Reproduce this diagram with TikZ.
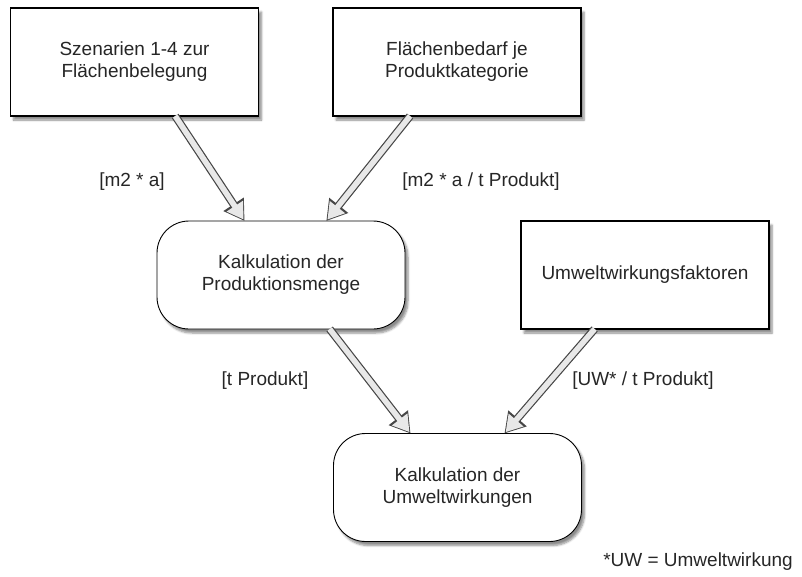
\documentclass[tikz,border=0pt]{standalone}
\usepackage{fontspec}
\setmainfont{Liberation Sans}
\usetikzlibrary{arrows.meta,shadows.blur}

\tikzset{
  stepbox/.style={draw=black, line width=1.2pt, fill=white, minimum width=248pt, minimum height=108pt,
    align=center, outer sep=0pt, text=black!85,
    blur shadow={shadow xshift=3pt, shadow yshift=-4pt, shadow blur steps=6, shadow opacity=45}},
  calcbox/.style={stepbox, line width=0.9pt, rounded corners=32pt},
  flow/.style={draw=gray!18, line width=5.6pt, -{Triangle[width=18.5pt,length=16pt]}, shorten >=1.8pt,
    preaction={draw=gray!55!black, line width=8pt, -{Triangle[width=23pt,length=20pt]}, shorten >=0pt}},
  unit/.style={text=black!85}
}

\begin{document}
\begin{tikzpicture}[x=1pt, y=-1pt, font=\fontsize{19}{22}\selectfont]
\useasboundingbox (0,0) rectangle (802,576);
% boxes and calculation steps
\node[stepbox] (szen) at (134.5,62) {Szenarien 1-4 zur\\Flächenbelegung};
\node[stepbox] (bedarf) at (457,62) {Flächenbedarf je\\Produktkategorie};
\node[calcbox] (menge) at (281,275) {Kalkulation der\\Produktionsmenge};
\node[stepbox] (faktor) at (645,275) {Umweltwirkungsfaktoren};
\node[calcbox] (wirkung) at (457.5,487.5) {Kalkulation der\\Umweltwirkungen};
% flows with units
\draw[flow] (szen.-53) -- (menge.124.4);
\draw[flow] (bedarf.-131) -- (menge.50.4);
\draw[flow] (menge.-48.7) -- (wirkung.131.4);
\draw[flow] (faktor.-133) -- (wirkung.49.1);
\node[unit] (u1) at (132,182) {[m2 * a]};
\node[unit] (u2) at (481,182) {[m2 * a / t Produkt]};
\node[unit] (u3) at (265,381) {[t Produkt]};
\node[unit] (u4) at (643,381) {[UW* / t Produkt]};
\node[unit] (note) at (698,562) {*UW = Umweltwirkung};
\end{tikzpicture}
\end{document}
